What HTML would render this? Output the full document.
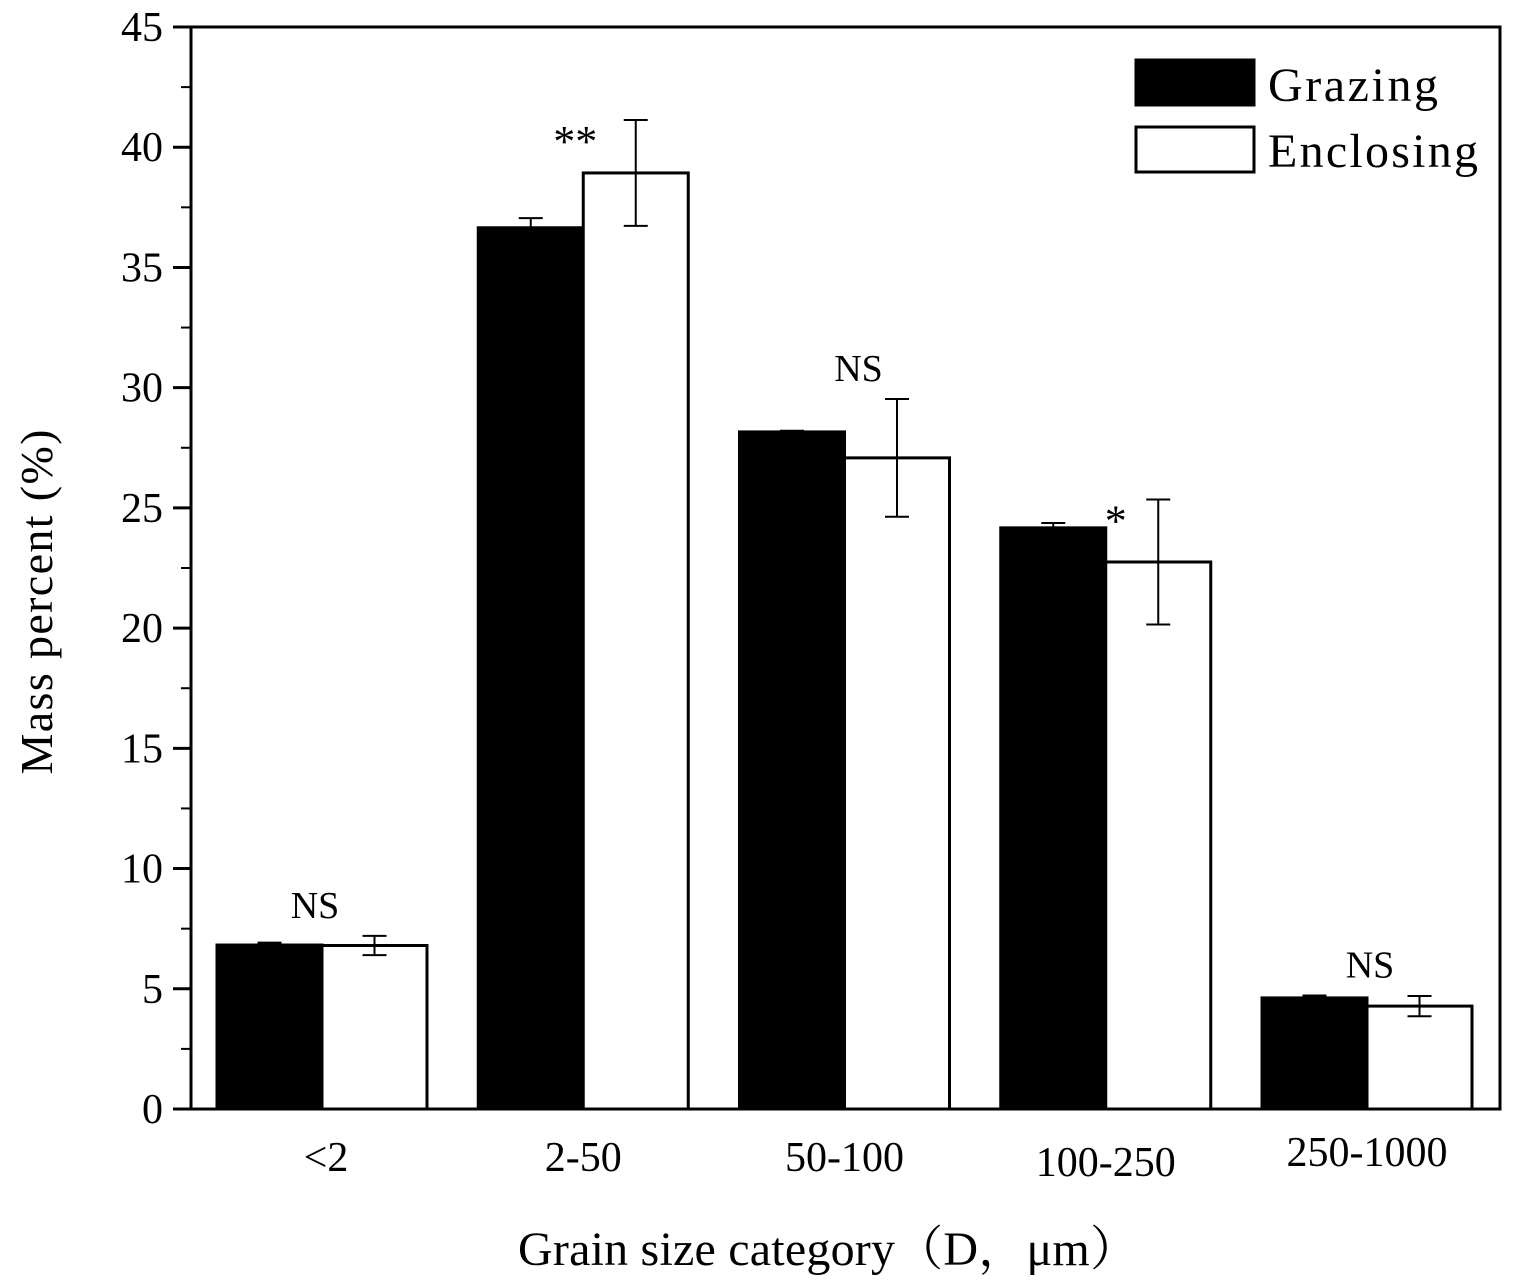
<!DOCTYPE html>
<html><head><meta charset="utf-8"><style>
html,body{margin:0;padding:0;background:#fff;}
svg{display:block;font-family:"Liberation Serif","Noto Serif CJK SC",serif;}
</style></head><body>
<svg id="chart" width="1513" height="1282" viewBox="0 0 1513 1282" xmlns="http://www.w3.org/2000/svg">
<g id="marks"></g>
<g id="axes"></g>
<g>
<rect x="1136" y="60" width="118" height="45" fill="#000" stroke="#000" stroke-width="3"/>
<text x="1268" y="101" font-size="48" textLength="170">Grazing</text>
<rect x="1136" y="127" width="118" height="45" fill="#fff" stroke="#000" stroke-width="3"/>
<text x="1268" y="167" font-size="48" textLength="210">Enclosing</text>
</g>
<text x="828" y="1265" font-size="48" text-anchor="middle" textLength="620">Grain size category（D，μm）</text>
<text transform="translate(52,602) rotate(-90)" font-size="46" text-anchor="middle" textLength="345">Mass percent (%)</text>
</svg>
<script>
const categories = ["<2","2-50","50-100","100-250","250-1000"];
const grazing = [6.82, 36.65, 28.16, 24.17, 4.62];
const grazingErr = [0.1, 0.4, 0.05, 0.2, 0.1];
const enclosing = [6.8, 38.93, 27.08, 22.75, 4.28];
const enclosingErr = [0.4, 2.2, 2.45, 2.6, 0.42];
const sig = ["NS","**","NS","*","NS"];
const yTicks = [0,5,10,15,20,25,30,35,40,45];

const NS="http://www.w3.org/2000/svg";
const L=191,R=1500,T=27,B=1109,yMax=45;
const y=v=>B-(v/yMax)*(B-T);
const step=261.25;
const cx=i=>322+i*step;
const bw=105;
const marks=document.getElementById('marks');
const axes=document.getElementById('axes');
function mk(tag,attrs,parent){const e=document.createElementNS(NS,tag);for(const k in attrs)e.setAttribute(k,attrs[k]);parent.appendChild(e);return e;}
function errBar(x,v,e,name){
  const g=mk('g',{},marks);
  
  
  mk('line',{x1:x,x2:x,y1:y(v+e),y2:y(v-e),stroke:'#000','stroke-width':2},g);
  mk('line',{x1:x-12,x2:x+12,y1:y(v+e),y2:y(v+e),stroke:'#000','stroke-width':2},g);
  mk('line',{x1:x-12,x2:x+12,y1:y(v-e),y2:y(v-e),stroke:'#000','stroke-width':2},g);
}
categories.forEach((c,i)=>{
  const b1=mk('rect',{x:cx(i)-bw,y:y(grazing[i]),width:bw,height:B-y(grazing[i]),fill:'#000',stroke:'#000','stroke-width':3},marks);
  
  
  const b2=mk('rect',{x:cx(i),y:y(enclosing[i]),width:bw,height:B-y(enclosing[i]),fill:'#fff',stroke:'#000','stroke-width':3},marks);
  
  
  errBar(cx(i)-bw/2,grazing[i],grazingErr[i],'error-grazing-'+i);
  errBar(cx(i)+bw/2,enclosing[i],enclosingErr[i],'error-enclosing-'+i);
  const top=Math.max(grazing[i]+grazingErr[i],enclosing[i]+enclosingErr[i]);
  const star=sig[i].startsWith('*');
  const s=mk('text',{x:cx(i)+(star?(sig[i].length>1?-8:10):(i==2?14:(i==0?-7:3))),y:y(top)+(star?36:-18),'font-size':star?44:38,'text-anchor':'middle'},marks);
  s.textContent=sig[i];
  
  
  const t=mk('text',{x:cx(i)+(i==0?4:0),y:B+62+(i==3?5:0)-(i==4?5:0),'font-size':42,'text-anchor':'middle'},axes);
  t.textContent=c;
  
  
});
const frame=mk('rect',{x:L,y:T,width:R-L,height:B-T,fill:'none',stroke:'#000','stroke-width':3},axes);


yTicks.forEach(v=>{
  mk('line',{x1:L-18,x2:L,y1:y(v),y2:y(v),stroke:'#000','stroke-width':3},axes);
  if(v<45) mk('line',{x1:L-10,x2:L,y1:y(v+2.5),y2:y(v+2.5),stroke:'#000','stroke-width':2},axes);
  const t=mk('text',{x:L-28,y:y(v)+14,'font-size':42,'text-anchor':'end'},axes);
  t.textContent=v;
  
  
});
</script>
</body></html>
